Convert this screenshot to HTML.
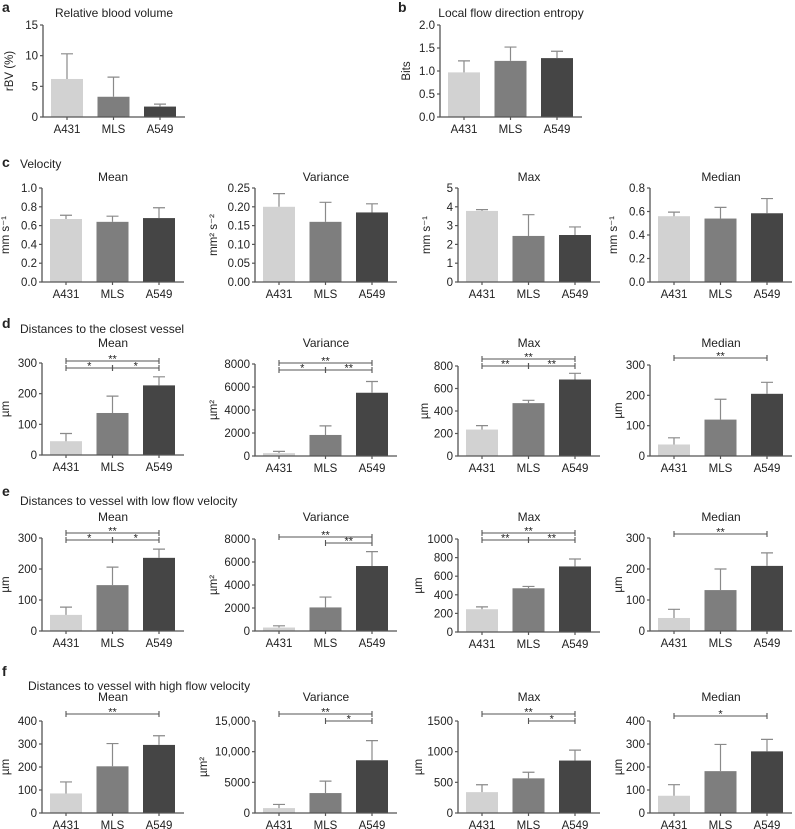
<!DOCTYPE html>
<html><head><meta charset="utf-8"><style>
html,body{margin:0;padding:0;background:#fff;}
svg{display:block;font-family:"Liberation Sans",Arial,sans-serif;}
</style></head><body>
<svg id="fig" width="795" height="829" viewBox="0 0 795 829" xmlns="http://www.w3.org/2000/svg"></svg>
<script>
const categories = ["A431","MLS","A549"];
const colors = ["#d2d2d2","#7e7e7e","#454545"];
const aVals=[6.2,3.3,1.7], aErr=[10.3,6.5,2.1], aTicks=[0,5,10,15];
const bVals=[0.97,1.22,1.28], bErr=[1.22,1.52,1.43], bTicks=[0,0.5,1.0,1.5,2.0];
const cMeanVals=[0.67,0.64,0.68], cMeanErr=[0.71,0.70,0.79], cMeanTicks=[0,0.2,0.4,0.6,0.8,1.0];
const cVarVals=[0.20,0.16,0.185], cVarErr=[0.235,0.212,0.208], cVarTicks=[0,0.05,0.10,0.15,0.20,0.25];
const cMaxVals=[3.78,2.45,2.5], cMaxErr=[3.85,3.58,2.93], cMaxTicks=[0,1,2,3,4,5];
const cMedVals=[0.56,0.54,0.585], cMedErr=[0.595,0.635,0.71], cMedTicks=[0,0.2,0.4,0.6,0.8];
const dMeanVals=[45,137,227], dMeanErr=[70,192,255], dMeanTicks=[0,100,200,300];
const dVarVals=[250,1830,5500], dVarErr=[400,2620,6480], dVarTicks=[0,2000,4000,6000,8000];
const dMaxVals=[235,470,680], dMaxErr=[270,495,735], dMaxTicks=[0,200,400,600,800];
const dMedVals=[38,120,205], dMedErr=[60,187,243], dMedTicks=[0,100,200,300];
const eMeanVals=[52,148,236], eMeanErr=[77,206,264], eMeanTicks=[0,100,200,300];
const eVarVals=[300,2050,5650], eVarErr=[450,2950,6900], eVarTicks=[0,2000,4000,6000,8000];
const eMaxVals=[245,470,705], eMaxErr=[270,490,785], eMaxTicks=[0,200,400,600,800,1000];
const eMedVals=[42,132,210], eMedErr=[70,200,252], eMedTicks=[0,100,200,300];
const fMeanVals=[85,203,296], fMeanErr=[135,302,336], fMeanTicks=[0,100,200,300,400];
const fVarVals=[800,3250,8600], fVarErr=[1400,5200,11800], fVarTicks=[0,5000,10000,15000];
const fVarTickLabels=["0","5000","10,000","15,000"];
const fMaxVals=[340,565,855], fMaxErr=[460,665,1025], fMaxTicks=[0,500,1000,1500];
const fMedVals=[75,182,268], fMedErr=[123,298,320], fMedTicks=[0,100,200,300,400];

const NS="http://www.w3.org/2000/svg";
const svg=document.getElementById('fig');
function mk(tag,attrs,parent){const e=document.createElementNS(NS,tag);for(const k in attrs)e.setAttribute(k,attrs[k]);(parent||svg).appendChild(e);return e;}
function txt(x,y,s,size,anchor,parent,weight){const t=mk('text',{x:x,y:y,'font-size':size,'text-anchor':anchor||'start',fill:'#222'},parent);if(weight)t.setAttribute('font-weight',weight);t.textContent=s;return t;}

function panel(name,x0,yTop,yBot,ticks,vals,errs,ylabel,opts){
  opts=opts||{};
  const g=mk('g',{});
  
  
  const ymax=ticks[ticks.length-1];
  const yS=v=>yBot-(v/ymax)*(yBot-yTop);
  const offs=[24,70.5,117], bw=32;
  const xS=i=>x0+offs[i];
  vals.forEach((v,i)=>{
    const r=mk('rect',{x:xS(i)-bw/2,y:yS(v),width:bw,height:yBot-yS(v),fill:colors[i]},g);
    
    
  });
  errs.forEach((e,i)=>{
    const eb=mk('path',{d:`M${xS(i)},${yS(vals[i])}V${yS(e)}M${xS(i)-6},${yS(e)}H${xS(i)+6}`,stroke:'#8a8a8a','stroke-width':1.2,fill:'none'},g);
    
    
  });
  const ax=mk('path',{d:`M${x0},${yTop}V${yBot}H${x0+142}`,stroke:'#555','stroke-width':1.3,fill:'none'},g);
  
  
  ticks.forEach((t,k)=>{
    mk('path',{d:`M${x0-3},${yS(t)}H${x0}`,stroke:'#555','stroke-width':1.2},g);
    const lab=opts.tickLabels?opts.tickLabels[k]:(opts.dec!=null?t.toFixed(opts.dec):String(t));
    const tl=txt(x0-5,yS(t)+4,lab,11.5,'end',g);
    
    
  });
  categories.forEach((c,i)=>{
    mk('path',{d:`M${xS(i)},${yBot}V${yBot+3}`,stroke:'#555','stroke-width':1.2},g);
    const xl=txt(xS(i),yBot+16,c,11.5,'middle',g);
    
    
  });
  const yl=mk('text',{x:0,y:0,'font-size':11.5,'text-anchor':'middle',fill:'#222',transform:`translate(${x0-(opts.ylOff||33)},${(yTop+yBot)/2}) rotate(-90)`},g);
  yl.textContent=ylabel;
  
  
  if(opts.title){
    const tt=txt(x0+71,opts.titleY,opts.title,12,'middle',g);
    
    
  }
  (opts.sig||[]).forEach(s=>{
    const xa=xS(s[0]),xb=xS(s[1]),y=s[2];
    const br=mk('path',{d:`M${xa},${y}H${xb}M${xa},${y-3}V${y+3}M${xb},${y-3}V${y+3}`,stroke:'#555','stroke-width':1.1,fill:'none'},g);
    
    
    const st=txt((xa+xb)/2,y+1.5,s[3],11,'middle',g);
    
    
  });
}
function triple(y1,y2,top,l,r){return [[0,2,y1,top],[0,1,y2,l],[1,2,y2,r]];}

[["a",2,12],["b",398,12],["c",2,167],["d",2,328],["e",2,496],["f",2,676]].forEach(p=>{
  const t=txt(p[1],p[2],p[0],14,'start',null,'bold');
  
  
});
[["Velocity",20,168],["Distances to the closest vessel",20,333],["Distances to vessel with low flow velocity",20,505],["Distances to vessel with high flow velocity",28,690]].forEach(p=>{
  const t=txt(p[1],p[2],p[0],12,'start');
  
  
});

const C=[42,255,458,650];
panel('rbv-chart',43,25,117,aTicks,aVals,aErr,'rBV (%)',{title:'Relative blood volume',titleY:17,ylOff:30});
panel('entropy-chart',440,25,117,bTicks,bVals,bErr,'Bits',{title:'Local flow direction entropy',titleY:17,dec:1,ylOff:30});

panel('velocity-mean',C[0],188,282,cMeanTicks,cMeanVals,cMeanErr,'mm s⁻¹',{title:'Mean',titleY:181,dec:1});
panel('velocity-variance',C[1],188,282,cVarTicks,cVarVals,cVarErr,'mm² s⁻²',{title:'Variance',titleY:181,dec:2,ylOff:38});
panel('velocity-max',C[2],188,282,cMaxTicks,cMaxVals,cMaxErr,'mm s⁻¹',{title:'Max',titleY:181,ylOff:28});
panel('velocity-median',C[3],188,282,cMedTicks,cMedVals,cMedErr,'mm s⁻¹',{title:'Median',titleY:181,dec:1});

panel('closest-mean',C[0],363,455,dMeanTicks,dMeanVals,dMeanErr,'µm',{title:'Mean',titleY:347,sig:triple(361,368,'**','*','*')});
panel('closest-variance',C[1],364,456,dVarTicks,dVarVals,dVarErr,'µm²',{title:'Variance',titleY:347,sig:triple(363,370,'**','*','**'),ylOff:38});
panel('closest-max',C[2],366,456,dMaxTicks,dMaxVals,dMaxErr,'µm',{title:'Max',titleY:347,sig:triple(359,366,'**','**','**'),ylOff:30});
panel('closest-median',C[3],365,456,dMedTicks,dMedVals,dMedErr,'µm',{title:'Median',titleY:347,sig:[[0,2,358,'**']],ylOff:28});

panel('low-mean',C[0],538,631,eMeanTicks,eMeanVals,eMeanErr,'µm',{title:'Mean',titleY:521,sig:triple(533,540,'**','*','*')});
panel('low-variance',C[1],539,631,eVarTicks,eVarVals,eVarErr,'µm²',{title:'Variance',titleY:521,sig:[[0,2,537,'**'],[1,2,543,'**']],ylOff:38});
panel('low-max',C[2],539,632,eMaxTicks,eMaxVals,eMaxErr,'µm',{title:'Max',titleY:521,sig:triple(533,540,'**','**','**'),ylOff:36});
panel('low-median',C[3],538,631,eMedTicks,eMedVals,eMedErr,'µm',{title:'Median',titleY:521,sig:[[0,2,534,'**']],ylOff:28});

panel('high-mean',C[0],721,813,fMeanTicks,fMeanVals,fMeanErr,'µm',{title:'Mean',titleY:701,sig:[[0,2,714,'**']]});
panel('high-variance',C[1],721,813,fVarTicks,fVarVals,fVarErr,'µm²',{title:'Variance',titleY:701,tickLabels:fVarTickLabels,sig:[[0,2,714,'**'],[1,2,721,'*']],ylOff:48});
panel('high-max',C[2],721,813,fMaxTicks,fMaxVals,fMaxErr,'µm',{title:'Max',titleY:701,sig:[[0,2,714,'**'],[1,2,721,'*']],ylOff:36});
panel('high-median',C[3],721,813,fMedTicks,fMedVals,fMedErr,'µm',{title:'Median',titleY:701,sig:[[0,2,716,'*']],ylOff:28});
</script>
</body></html>
